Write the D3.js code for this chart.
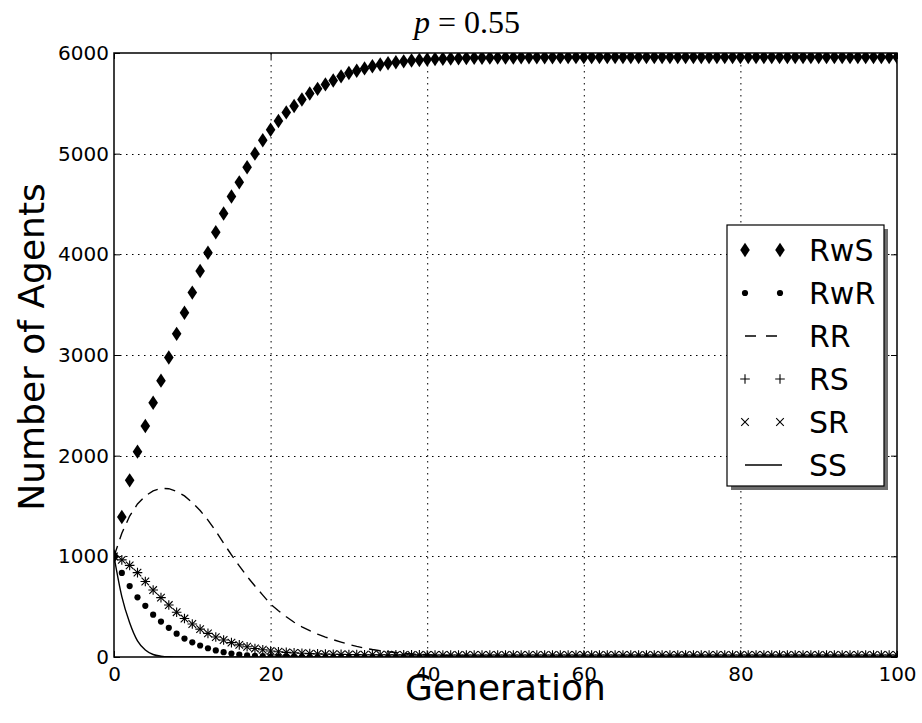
<!DOCTYPE html>
<html>
<head>
<meta charset="utf-8">
<script src="https://cdn.jsdelivr.net/npm/d3@7"></script>
<style>
  html, body { margin: 0; padding: 0; background: #fff; }
  svg { display: block; }
</style>
</head>
<body>
<svg id="chart" width="922" height="723"></svg>
<script>
// ---------------- DATA ----------------
const generations = [0,1,2,3,4,5,6,7,8,9,10,11,12,13,14,15,16,17,18,19,20,21,22,23,24,25,26,27,28,29,30,31,32,33,34,35,36,37,38,39,40,41,42,43,44,45,46,47,48,49,50,51,52,53,54,55,56,57,58,59,60,61,62,63,64,65,66,67,68,69,70,71,72,73,74,75,76,77,78,79,80,81,82,83,84,85,86,87,88,89,90,91,92,93,94,95,96,97,98,99,100];

const RwS = [1000,1390,1755,2040,2295,2525,2745,2975,3210,3420,3620,3835,4015,4220,4405,4575,4715,4865,5000,5134,
  5238,5324,5410,5473,5538,5598,5644,5688,5727,5768,5802,5823,5847,5868,5886,5898,5908,5917,5925,5931,
  5936,5940,5943,5946,5948,5950,5952,5953,5954,5955,5956,5956,5957,5957,5958,5958,5958,5959,5959,5959,
  5959,5959,5960,5960,5960,5960,5960,5960,5960,5960,5960,5960,5960,5960,5960,5960,5960,5960,5960,5960,
  5960,5960,5960,5960,5960,5960,5960,5960,5960,5960,5960,5960,5960,5960,5960,5960,5960,5960,5960,5960,5960];

const RwR = [1000,835,705,593,508,420,352,290,232,183,146,114,87,65,48,34,24,17,12,8,
  5,4,3,2,1,1,0,0,0,0,0,0,0,0,0,0,0,0,0,0,
  0,0,0,0,0,0,0,0,0,0,0,0,0,0,0,0,0,0,0,0,
  0,0,0,0,0,0,0,0,0,0,0,0,0,0,0,0,0,0,0,0,
  0,0,0,0,0,0,0,0,0,0,0,0,0,0,0,0,0,0,0,0,0];

const RR = [1000,1230,1400,1520,1600,1650,1675,1672,1645,1600,1535,1455,1360,1250,1130,1015,905,800,705,615,
  525,460,400,345,300,262,228,198,172,148,125,105,88,74,62,52,44,37,31,26,
  22,18,15,12,10,8,6,5,4,3,2,2,1,1,1,0,0,0,0,0,
  0,0,0,0,0,0,0,0,0,0,0,0,0,0,0,0,0,0,0,0,
  0,0,0,0,0,0,0,0,0,0,0,0,0,0,0,0,0,0,0,0,0];

const RS = [1000,965,910,838,750,665,590,516,445,382,328,277,235,198,169,143,120,102,85,72,
  60,52,46,41,37,34,31,29,27,26,25,24,23,23,22,22,21,21,21,21,
  20,20,20,20,20,20,20,20,20,20,20,20,20,20,20,20,20,20,20,20,
  20,20,20,20,20,20,20,20,20,20,20,20,20,20,20,20,20,20,20,20,
  20,20,20,20,20,20,20,20,20,20,20,20,20,20,20,20,20,20,20,20,20];

const SR = [1000,965,910,838,750,665,590,516,445,382,328,277,235,198,169,143,120,102,85,72,
  60,52,46,41,37,34,31,29,27,26,25,24,23,23,22,22,21,21,21,21,
  20,20,20,20,20,20,20,20,20,20,20,20,20,20,20,20,20,20,20,20,
  20,20,20,20,20,20,20,20,20,20,20,20,20,20,20,20,20,20,20,20,
  20,20,20,20,20,20,20,20,20,20,20,20,20,20,20,20,20,20,20,20,20];

const SS = [1000,600,340,160,70,25,8,2,1,0,0,0,0,0,0,0,0,0,0,0,
  0,0,0,0,0,0,0,0,0,0,0,0,0,0,0,0,0,0,0,0,
  0,0,0,0,0,0,0,0,0,0,0,0,0,0,0,0,0,0,0,0,
  0,0,0,0,0,0,0,0,0,0,0,0,0,0,0,0,0,0,0,0,
  0,0,0,0,0,0,0,0,0,0,0,0,0,0,0,0,0,0,0,0,0];

const xTicks = [0,20,40,60,80,100];
const yTicks = [0,1000,2000,3000,4000,5000,6000];
const seriesNames = ["RwS","RwR","RR","RS","SR","SS"];
const titleText = {italic: "p", rest: " = 0.55"};
const xLabel = "Generation";
const yLabel = "Number of Agents";

// ---------------- LAYOUT ----------------
const L = 114, R = 897, T = 53, B = 657;
const svg = d3.select("#chart");
const x = d3.scaleLinear().domain([0,100]).range([L,R]);
const y = d3.scaleLinear().domain([0,6000]).range([B,T]);
const FONT = "DejaVu Sans, sans-serif";

svg.append("defs").append("clipPath").attr("id","plotclip")
  .append("rect").attr("x",L).attr("y",T).attr("width",R-L).attr("height",B-T);

// grid
const grid = svg.append("g");
grid.selectAll("line.gx").data(xTicks.slice(1,-1)).join("line")
  .attr("x1",d=>x(d)+0.5).attr("x2",d=>x(d)+0.5).attr("y1",T).attr("y2",B)
  .attr("stroke","#000").attr("stroke-width",1).attr("stroke-dasharray","1.5,4.5");
grid.selectAll("line.gy").data(yTicks.slice(1,-1)).join("line")
  .attr("y1",d=>Math.round(y(d))+0.5).attr("y2",d=>Math.round(y(d))+0.5).attr("x1",L).attr("x2",R)
  .attr("stroke","#000").attr("stroke-width",1).attr("stroke-dasharray","1.5,4.5");

// data
const plot = svg.append("g").attr("clip-path","url(#plotclip)");
const pts = arr => generations.map((g,i)=>[x(g), y(arr[i])]);

// marker geometry
const dw = 4.8, dh = 7.2;   // thin diamond half sizes
const dotR = 3.1;
const ps = 4.8;             // plus half size
const xs = 3.8;             // x half size

// RwS thin diamonds
plot.append("g").selectAll("path").data(pts(RwS)).join("path")
  .attr("d",d=>`M${d[0]},${d[1]-dh}L${d[0]+dw},${d[1]}L${d[0]},${d[1]+dh}L${d[0]-dw},${d[1]}Z`)
  .attr("fill","#000");

// RwR dots
plot.append("g").selectAll("circle").data(pts(RwR)).join("circle")
  .attr("cx",d=>d[0]).attr("cy",d=>d[1]).attr("r",dotR).attr("fill","#000");

// RR dashed line
plot.append("path").datum(pts(RR))
  .attr("d",d3.line())
  .attr("fill","none").attr("stroke","#000").attr("stroke-width",1.4)
  .attr("stroke-dasharray","11,7");

// RS plus
plot.append("g").selectAll("path").data(pts(RS)).join("path")
  .attr("d",d=>`M${d[0]-ps},${d[1]}H${d[0]+ps}M${d[0]},${d[1]-ps}V${d[1]+ps}`)
  .attr("stroke","#000").attr("stroke-width",1.1).attr("fill","none");

// SR x
plot.append("g").selectAll("path").data(pts(SR)).join("path")
  .attr("d",d=>`M${d[0]-xs},${d[1]-xs}L${d[0]+xs},${d[1]+xs}M${d[0]-xs},${d[1]+xs}L${d[0]+xs},${d[1]-xs}`)
  .attr("stroke","#000").attr("stroke-width",1.1).attr("fill","none");

// SS solid line
plot.append("path").datum(pts(SS))
  .attr("d",d3.line().curve(d3.curveMonotoneX))
  .attr("fill","none").attr("stroke","#000").attr("stroke-width",1.4);

// frame
svg.append("rect").attr("x",L).attr("y",T).attr("width",R-L).attr("height",B-T)
  .attr("fill","none").attr("stroke","#000").attr("stroke-width",1.5);

// axes (inward ticks)
function styleAxis(g){ g.select(".domain").remove(); g.selectAll("line").attr("stroke","#000").attr("stroke-width",1); }
svg.append("g").attr("transform",`translate(0,${B})`)
  .call(d3.axisBottom(x).tickValues(xTicks).tickSize(-6).tickPadding(10).tickFormat(d3.format("d")))
  .call(styleAxis)
  .call(g=>g.selectAll("text").attr("font-family",FONT).attr("font-size",20).attr("fill","#000"));
svg.append("g").attr("transform",`translate(0,${T})`)
  .call(d3.axisTop(x).tickValues(xTicks).tickSize(-6).tickFormat(""))
  .call(styleAxis);
svg.append("g").attr("transform",`translate(${L},0)`)
  .call(d3.axisLeft(y).tickValues(yTicks).tickSize(-6).tickPadding(5).tickFormat(d3.format("d")))
  .call(styleAxis)
  .call(g=>g.selectAll("text").attr("font-family",FONT).attr("font-size",20).attr("fill","#000"));
svg.append("g").attr("transform",`translate(${R},0)`)
  .call(d3.axisRight(y).tickValues(yTicks).tickSize(-6).tickFormat(""))
  .call(styleAxis);

// axis labels
svg.append("text").attr("x",(L+R)/2).attr("y",700).attr("text-anchor","middle")
  .attr("font-family",FONT).attr("font-size",36).text(xLabel);
svg.append("text").attr("transform",`translate(44,347) rotate(-90)`).attr("text-anchor","middle")
  .attr("font-family",FONT).attr("font-size",36).text(yLabel);

// title
const tt = svg.append("text").attr("x",467).attr("y",33).attr("text-anchor","middle")
  .attr("font-family","Liberation Serif, DejaVu Serif, serif").attr("font-size",32);
tt.append("tspan").attr("font-style","italic").text(titleText.italic);
tt.append("tspan").text(titleText.rest);

// legend
const lg = svg.append("g");
const lx = 727, ly = 225, lw = 157, lh = 261;
lg.append("rect").attr("x",lx+4).attr("y",ly+4).attr("width",lw).attr("height",lh).attr("fill","#6e6e6e");
lg.append("rect").attr("x",lx).attr("y",ly).attr("width",lw).attr("height",lh)
  .attr("fill","#fff").attr("stroke","#000").attr("stroke-width",1.2);
const rowY = i => 250 + i*43;
const m1 = 745, m2 = 780;
seriesNames.forEach((name,i)=>{
  const cy = rowY(i);
  const g = lg.append("g");
  [m1,m2].forEach(cx=>{
    if(name==="RwS") g.append("path").attr("d",`M${cx},${cy-dh}L${cx+dw},${cy}L${cx},${cy+dh}L${cx-dw},${cy}Z`).attr("fill","#000");
    if(name==="RwR") g.append("circle").attr("cx",cx).attr("cy",cy).attr("r",dotR).attr("fill","#000");
    if(name==="RS") g.append("path").attr("d",`M${cx-ps},${cy}H${cx+ps}M${cx},${cy-ps}V${cy+ps}`).attr("stroke","#000").attr("stroke-width",1.1);
    if(name==="SR") g.append("path").attr("d",`M${cx-xs},${cy-xs}L${cx+xs},${cy+xs}M${cx-xs},${cy+xs}L${cx+xs},${cy-xs}`).attr("stroke","#000").attr("stroke-width",1.1);
  });
  if(name==="RR") g.append("line").attr("x1",m1).attr("x2",m2+2).attr("y1",cy).attr("y2",cy)
    .attr("stroke","#000").attr("stroke-width",1.4).attr("stroke-dasharray","11,10");
  if(name==="SS") g.append("line").attr("x1",m1).attr("x2",m2+2).attr("y1",cy).attr("y2",cy)
    .attr("stroke","#000").attr("stroke-width",1.4);
  g.append("text").attr("x",809).attr("y",cy+11).attr("font-family",FONT).attr("font-size",30).text(name);
});
</script>
</body>
</html>
